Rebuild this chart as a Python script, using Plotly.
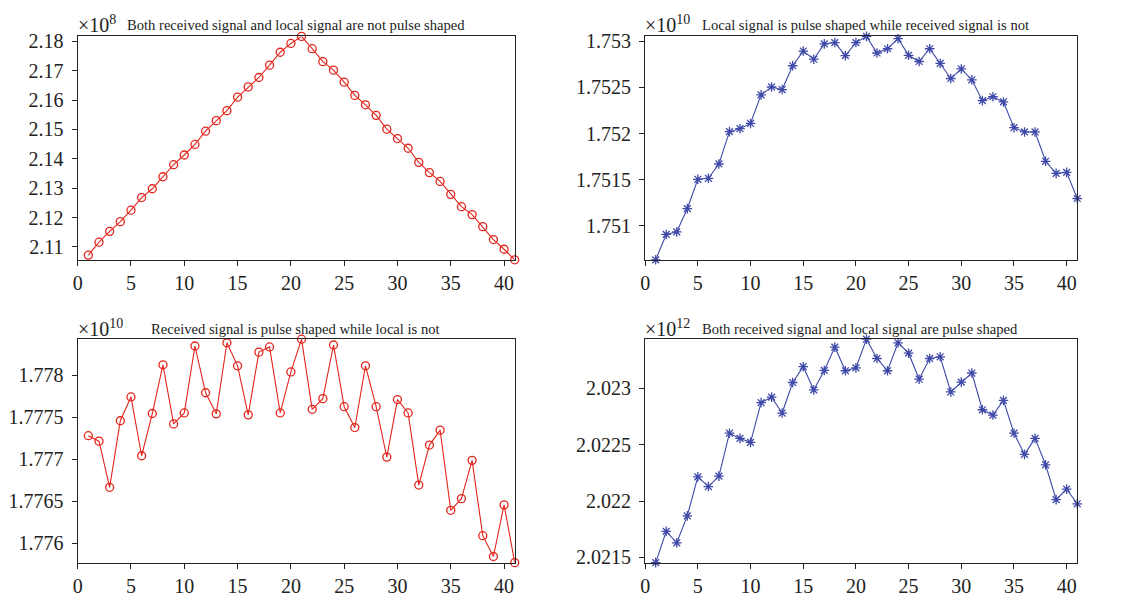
import plotly.graph_objects as go

x_vals = list(range(1, 42))

y_not_shaped = [2.1072, 2.1116, 2.1153, 2.1186, 2.1225, 2.1268, 2.1298, 2.1339, 2.1380, 2.1413,
                2.1449, 2.1494, 2.1530, 2.1564, 2.1610, 2.1645, 2.1677, 2.1719, 2.1763, 2.1793,
                2.1817, 2.1775, 2.1731, 2.1702, 2.1661, 2.1616, 2.1584, 2.1548, 2.1501, 2.1469,
                2.1436, 2.1388, 2.1353, 2.1323, 2.1279, 2.1237, 2.1210, 2.1169, 2.1125, 2.1092,
                2.1056]

y_local_shaped = [1.750633, 1.750908, 1.750936, 1.751187, 1.751505, 1.751516, 1.751671, 1.752021,
                  1.752053, 1.752110, 1.752420, 1.752505, 1.752477, 1.752735, 1.752894, 1.752806,
                  1.752972, 1.752986, 1.752845, 1.752986, 1.753053, 1.752873, 1.752919, 1.753028,
                  1.752848, 1.752781, 1.752919, 1.752760, 1.752597, 1.752700, 1.752583, 1.752357,
                  1.752399, 1.752343, 1.752064, 1.752018, 1.752018, 1.751700, 1.751569, 1.751580,
                  1.751297]

y_received_shaped = [1.777280, 1.777215, 1.776665, 1.777458, 1.777741, 1.777041, 1.777544, 1.778124,
                     1.777420, 1.777551, 1.778348, 1.777791, 1.777540, 1.778387, 1.778112, 1.777528,
                     1.778275, 1.778337, 1.777551, 1.778039, 1.778429, 1.777594, 1.777721, 1.778360,
                     1.777625, 1.777377, 1.778112, 1.777625, 1.777025, 1.777710, 1.777551, 1.776692,
                     1.777168, 1.777346, 1.776391, 1.776530, 1.776986, 1.776089, 1.775841, 1.776456,
                     1.775768]

y_both_shaped = [2.021454, 2.021731, 2.021630, 2.021869, 2.022215, 2.022129, 2.022221, 2.022602,
                 2.022556, 2.022521, 2.022873, 2.022922, 2.022781, 2.023052, 2.023193, 2.022986,
                 2.023159, 2.023366, 2.023156, 2.023182, 2.023436, 2.023265, 2.023156, 2.023404,
                 2.023312, 2.023081, 2.023265, 2.023280, 2.022968, 2.023055, 2.023136, 2.022810,
                 2.022763, 2.022893, 2.022602, 2.022414, 2.022556, 2.022322, 2.022013, 2.022106,
                 2.021976]

x_ticks = [0, 5, 10, 15, 20, 25, 30, 35, 40]

ticks_tl = [2.11, 2.12, 2.13, 2.14, 2.15, 2.16, 2.17, 2.18]
ticks_tr = [1.751, 1.7515, 1.752, 1.7525, 1.753]
ticks_bl = [1.776, 1.7765, 1.777, 1.7775, 1.778]
ticks_br = [2.0215, 2.022, 2.0225, 2.023]

titles = ["Both received signal and local signal are not pulse shaped",
          "Local signal is pulse shaped while received signal is not",
          "Received signal is pulse shaped while local is not",
          "Both received signal and local signal are pulse shaped"]
exponents = ["8", "10", "10", "12"]

RED = "#e3261c"
BLUE = "#3f4aa8"
FONT = "Liberation Serif"

series = [
    (y_not_shaped, ticks_tl, RED, "circle-open", "x", "y"),
    (y_local_shaped, ticks_tr, BLUE, "asterisk-open", "x2", "y2"),
    (y_received_shaped, ticks_bl, RED, "circle-open", "x3", "y3"),
    (y_both_shaped, ticks_br, BLUE, "asterisk-open", "x4", "y4"),
]

W, H = 1126, 600
# plot areas in pixels: (left, right, top, bottom)
boxes = [(73, 512, 31, 259), (643, 1077, 31, 259), (73, 512, 340, 568), (643, 1077, 340, 568)]

fig = go.Figure()
layout = dict(width=W, height=H, margin=dict(l=0, r=0, t=0, b=0),
              paper_bgcolor="white", plot_bgcolor="white", showlegend=False,
              font=dict(family=FONT, color="#222", size=18))
annotations = []

for i, (ys, yt, col, sym, xa, ya) in enumerate(series):
    fig.add_trace(go.Scatter(x=x_vals, y=ys, mode="lines+markers", xaxis=xa, yaxis=ya,
                             line=dict(color=col, width=1.1),
                             marker=dict(symbol=sym, size=8 if sym == "circle-open" else 8,
                                         color=col, line=dict(color=col, width=1.3)),
                             cliponaxis=False))
    l, r, t, b = boxes[i]
    sfx = "" if i == 0 else str(i + 1)
    layout["xaxis" + sfx] = dict(domain=[l / W, r / W], anchor="y" + sfx, range=[0, 41],
                                 tickvals=x_ticks, ticktext=[str(v) for v in x_ticks],
                                 showgrid=False, zeroline=False, showline=True, mirror=True,
                                 linecolor="#222", linewidth=1.3, ticks="outside", ticklen=5,
                                 tickcolor="#222", tickfont=dict(family=FONT, size=20))
    layout["yaxis" + sfx] = dict(domain=[1 - b / H, 1 - t / H], anchor="x" + sfx,
                                 range=[min(ys), max(ys)],
                                 tickvals=yt, ticktext=[("%.4f" % v).rstrip("0") for v in yt],
                                 showgrid=False, zeroline=False, showline=True, mirror=True,
                                 linecolor="#222", linewidth=1.3, ticks="outside", ticklen=5,
                                 ticklabelstandoff=4,
                                 tickcolor="#222", tickfont=dict(family=FONT, size=20))
    ty = 18 if i < 2 else 329
    annotations.append(dict(x=(l - 2) / W, y=1 - ty / H, xref="paper", yref="paper",
                            text="×10<sup>" + exponents[i] + "</sup>", showarrow=False,
                            xanchor="left", yanchor="middle",
                            font=dict(family=FONT, size=20, color="#222")))
    if i % 2 == 0:
        annotations.append(dict(x=292 / W, y=1 - (ty + 1) / H, xref="paper", yref="paper",
                                text=titles[i], showarrow=False, xanchor="center",
                                yanchor="middle", font=dict(family=FONT, size=14.6, color="#222")))
    else:
        annotations.append(dict(x=698 / W, y=1 - (ty + 1) / H, xref="paper", yref="paper",
                                text=titles[i], showarrow=False, xanchor="left",
                                yanchor="middle", font=dict(family=FONT, size=14.6, color="#222")))

layout["annotations"] = annotations
fig.update_layout(**layout)
fig.write_html("out.html")
